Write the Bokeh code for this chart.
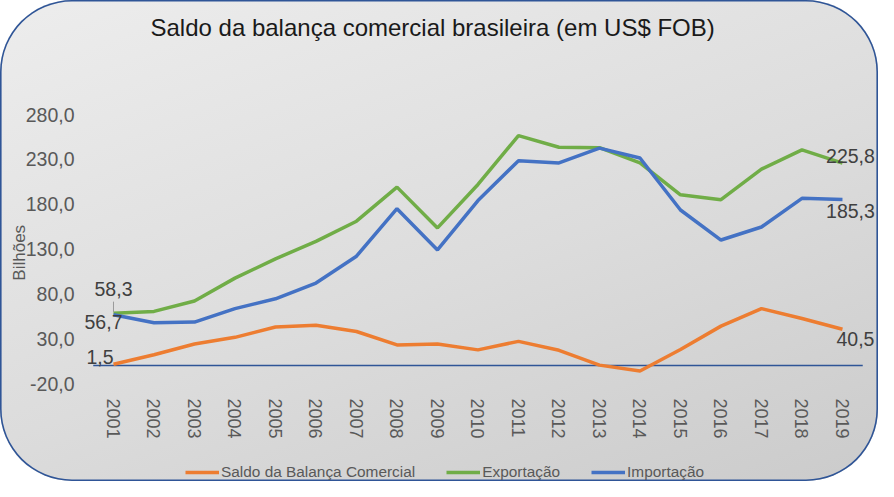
from bokeh.plotting import figure
from bokeh.models import (ColumnDataSource, FixedTicker, Label, Legend, LegendItem)
from bokeh.core.properties import value
from bokeh.embed import file_html
from bokeh.resources import INLINE

# ---------------- data ----------------
years = list(range(2001, 2020))
exportacao = [58.3, 60.4, 72.0, 97.5, 119.0, 138.5, 161.0, 199.0, 153.5, 202.0,
              256.5, 243.5, 243.0, 226.0, 190.5, 185.0, 219.0, 240.5, 225.8]
importacao = [56.7, 47.8, 48.5, 63.5, 74.5, 92.0, 122.0, 175.0, 129.0, 184.0,
              228.5, 226.0, 242.5, 231.5, 173.5, 140.0, 154.5, 186.5, 185.3]
saldo = [1.5, 12.0, 24.0, 31.5, 43.0, 45.0, 38.0, 23.0, 24.0, 17.5,
         27.0, 17.0, 0.5, -6.0, 18.0, 44.0, 63.5, 52.5, 40.5]
y_ticks = [-20, 30, 80, 130, 180, 230, 280]
y_tick_labels = ["-20,0", "30,0", "80,0", "130,0", "180,0", "230,0", "280,0"]
series_names = ["Saldo da Balança Comercial", "Exportação", "Importação"]
title_text = "Saldo da balança comercial brasileira (em US$ FOB)"
y_axis_title = "Bilhões"

ORANGE = "#ED7D31"
GREEN = "#70AD47"
BLUE = "#4472C4"
GRAY = "#595959"
FONT = "Liberation Sans"

# The frame spans the full height so that the title and legend (annotations)
# are drawn inside it; the value axis still shows -20..280.
p = figure(width=878, height=481, x_range=(2000.21, 2019.84), y_range=(-129.29, 407.14),
           title=None, output_backend="svg", toolbar_location=None,
           min_border_left=81, min_border_right=2, min_border_top=0, min_border_bottom=0)
p.border_fill_color = None
p.background_fill_color = None
p.outline_line_color = None
p.styles = {
    "border-radius": "72px",
    "background": "linear-gradient(160deg, #ededed 0%, #dcdcdc 55%, #cbcbcb 100%)",
    "box-shadow": "inset 0 0 0 1.6px #2F5597",
}
p.xgrid.grid_line_color = None
p.ygrid.grid_line_color = None

src = ColumnDataSource(dict(x=years, s=saldo, e=exportacao, i=importacao))

# zero (category) axis line across the category band
p.segment(x0=years[0] - 0.5, x1=years[-1] + 0.5, y0=0, y1=0,
          line_color="#2F5597", line_width=1.5)

r_s = p.line("x", "s", source=src, line_color=ORANGE, line_width=3.5)
r_e = p.line("x", "e", source=src, line_color=GREEN, line_width=3.5)
r_i = p.line("x", "i", source=src, line_color=BLUE, line_width=3.5)

# small leader line of the first export label
p.segment(x0=years[0], x1=years[0], y0=exportacao[0] + 1.5, y1=exportacao[0] + 13,
          line_color="#9a9a9a", line_width=1)

# axes
ya = p.yaxis[0]
ya.ticker = FixedTicker(ticks=y_ticks)
ya.major_label_overrides = {t: l for t, l in zip(y_ticks, y_tick_labels)}
ya.axis_line_color = None
ya.major_tick_line_color = None
ya.minor_tick_line_color = None
ya.major_tick_out = 0
ya.major_tick_in = 0
ya.minor_tick_out = 0
ya.minor_tick_in = 0
ya.major_label_text_font = FONT
ya.major_label_text_font_size = "19.5px"
ya.major_label_text_color = GRAY
ya.major_label_standoff = 7
# trailing no-break spaces shift the centred title down to where the reference has it
ya.axis_label = y_axis_title + "\u00a0" * 5
ya.axis_label_text_font = FONT
ya.axis_label_text_font_style = "normal"
ya.axis_label_text_font_size = "17px"
ya.axis_label_text_color = GRAY
ya.axis_label_standoff = -6

xa = p.xaxis[0]
xa.ticker = FixedTicker(ticks=years)
xa.axis_line_color = None
xa.major_tick_line_color = None
xa.minor_tick_line_color = None
xa.major_tick_out = 0
xa.major_tick_in = 0
xa.minor_tick_out = 0
xa.minor_tick_in = 0
xa.major_label_orientation = "vertical"
xa.major_label_text_font = FONT
xa.major_label_text_font_size = "18px"
xa.major_label_text_color = GRAY
xa.major_label_standoff = -83

# data labels
def fmt(v):
    return f"{v:.1f}".replace(".", ",")

lab = ColumnDataSource(dict(
    x=[years[0], years[0], years[0], years[-1], years[-1], years[-1]],
    y=[exportacao[0], importacao[0], saldo[0], exportacao[-1], importacao[-1], saldo[-1]],
    t=[fmt(exportacao[0]), fmt(importacao[0]), fmt(saldo[0]),
       fmt(exportacao[-1]), fmt(importacao[-1]), fmt(saldo[-1])],
    xo=[0, -10, 0, 8, 8, 13],
    yo=[-24, 7, -7, -7, 12, 10],
    al=["center", "center", "right", "center", "center", "center"],
))
p.text("x", "y", text="t", source=lab, x_offset="xo", y_offset="yo", text_align="al",
       text_baseline="middle", text_font=value(FONT), text_font_size="19.5px",
       text_color="#404040")

# title
p.add_layout(Label(x=69, y=454, x_units="screen", y_units="screen", text=title_text,
                   text_align="left", text_baseline="middle", text_font=FONT,
                   text_font_size="24px", text_color="#1a1a1a"))

# legend
legend = Legend(items=[LegendItem(label=series_names[0], renderers=[r_s]),
                       LegendItem(label=series_names[1], renderers=[r_e]),
                       LegendItem(label=series_names[2], renderers=[r_i])],
                location=(104, 0), orientation="horizontal",
                background_fill_alpha=0, border_line_color=None,
                padding=0, margin=0, spacing=31, label_standoff=2,
                glyph_width=34, glyph_height=18,
                label_text_font=FONT, label_text_font_size="15.4px",
                label_text_color=GRAY)
p.add_layout(legend, "center")

open("out.html", "w").write(file_html(p, INLINE))
